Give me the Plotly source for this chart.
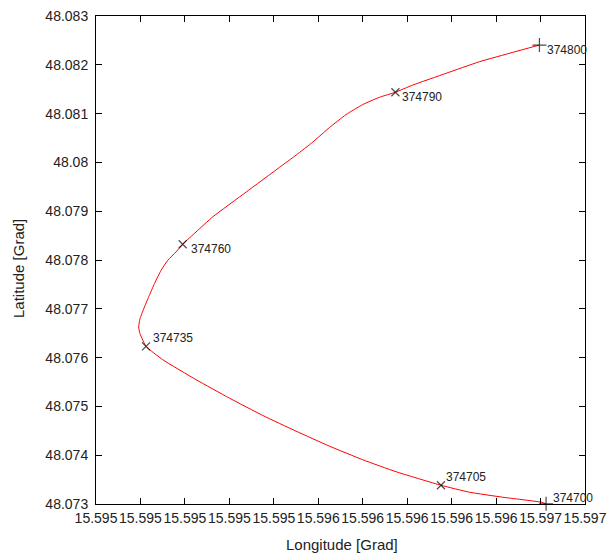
import plotly.graph_objects as go

# Track (longitude / latitude in degrees), in recording order
lon = [15.596625, 15.596603, 15.596430, 15.596280, 15.596152, 15.595950, 15.595800,
       15.595650, 15.595500, 15.595350, 15.595200, 15.595050, 15.594900, 15.594825,
       15.594798, 15.594792, 15.594798, 15.594818, 15.594840, 15.594863, 15.594893,
       15.594923, 15.594960, 15.594990, 15.595050, 15.595125, 15.595275, 15.595425,
       15.595500, 15.595575, 15.595650, 15.595725, 15.595800, 15.595875, 15.595947,
       15.596025, 15.596175, 15.596325, 15.596475, 15.596595]
lat = [48.073004, 48.073037, 48.073139, 48.073242, 48.073384, 48.073661, 48.073907,
       48.074186, 48.074493, 48.074815, 48.075170, 48.075548, 48.075958, 48.076231,
       48.076491, 48.076627, 48.076799, 48.077037, 48.077277, 48.077517, 48.077790,
       48.077995, 48.078165, 48.078323, 48.078575, 48.078883, 48.079390, 48.079897,
       48.080149, 48.080416, 48.080713, 48.080980, 48.081185, 48.081334, 48.081438,
       48.081585, 48.081825, 48.082063, 48.082255, 48.082405]

# Labelled points
mark_lon = [15.596625, 15.596152, 15.594825, 15.594990, 15.595947, 15.596595]
mark_lat = [48.073004, 48.073384, 48.076231, 48.078323, 48.081438, 48.082405]
mark_label = ["374700", "374705", "374735", "374760", "374790", "374800"]
mark_symbol = ["cross-thin", "x-thin", "x-thin", "x-thin", "x-thin", "cross-thin"]
mark_size = [10, 8, 8, 8, 8, 10]
label_dx = [5, 3.5, 5, 6.5, 5, 6]
label_dy = [6, 8, 8, -5, -5, -5]

x_range = [15.5946, 15.5968]
y_range = [48.073, 48.083]

FONT = "Liberation Sans, Arial, Helvetica, sans-serif"

fig = go.Figure()
fig.add_trace(go.Scatter(
    x=lon, y=lat, mode="lines",
    line=dict(color="#ff0000", width=1, shape="spline", smoothing=0.45),
    showlegend=False, hoverinfo="skip", cliponaxis=False))
fig.add_trace(go.Scatter(
    x=mark_lon, y=mark_lat, mode="markers",
    marker=dict(symbol=mark_symbol, size=mark_size, color="black",
                line=dict(color="black", width=1.2)),
    showlegend=False, cliponaxis=False))

for mx, my, t, dx, dy in zip(mark_lon, mark_lat, mark_label, label_dx, label_dy):
    fig.add_annotation(x=mx, y=my, xref="x", yref="y", text=t, showarrow=False,
                       xanchor="left", yanchor="middle", xshift=dx, yshift=dy,
                       font=dict(family=FONT, size=12, color="#222222"))

axis_common = dict(
    showgrid=False, zeroline=False, showline=True, linecolor="black", linewidth=1,
    mirror="allticks", ticks="inside", ticklen=6, tickcolor="black", automargin=False,
    ticklabeloverflow="allow",
    tickfont=dict(family=FONT, size=14, color="#222222"),
)
fig.update_xaxes(range=x_range, tick0=x_range[0], dtick=0.0002, tickformat=".3f",
                 tickangle=0, ticklabelstandoff=1, **axis_common)
fig.update_yaxes(range=y_range, tick0=y_range[0], dtick=0.001, ticklabelstandoff=4,
                 **axis_common)

FW, FH = 611, 555
L, T, W, H = 96, 16, 489, 488
fig.add_annotation(x=(341.5 - L) / W, y=(T + H - 544) / H, xref="paper", yref="paper",
                   text="Longitude [Grad]", showarrow=False, xanchor="center", yanchor="middle",
                   font=dict(family=FONT, size=15, color="#222222"))
fig.add_annotation(x=(18 - L) / W, y=(T + H - 269) / H, xref="paper", yref="paper",
                   text="Latitude [Grad]", showarrow=False, textangle=-90,
                   xanchor="center", yanchor="middle",
                   font=dict(family=FONT, size=15, color="#222222"))

fig.update_layout(
    width=FW, height=FH,
    margin=dict(l=L, r=FW - L - W, t=T, b=FH - T - H, pad=0),
    plot_bgcolor="white", paper_bgcolor="white",
    hovermode=False,
)
fig.write_html(
    "out.html",
    config={"displayModeBar": False, "staticPlot": True},
    post_script="document.body.style.margin='0px';document.body.style.overflow='hidden';",
)
